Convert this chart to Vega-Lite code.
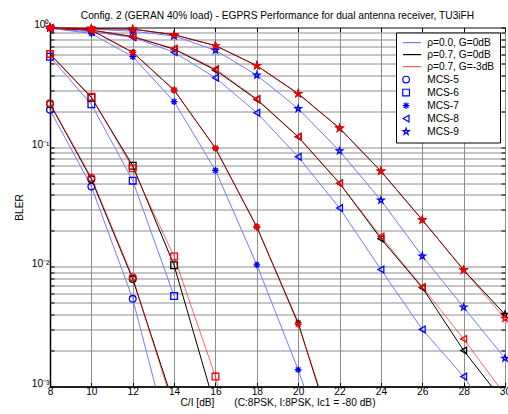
{
  "$schema": "https://vega.github.io/schema/vega-lite/v6.json",
  "width": 455,
  "height": 359,
  "autosize": {"type": "none"},
  "padding": {"left": 50, "top": 27.5, "right": 3, "bottom": 27.5},
  "background": "white",
  "config": {
    "font": "Liberation Sans",
    "view": {"stroke": "black", "strokeWidth": 1},
    "axis": {
      "domainColor": "black",
      "domainWidth": 1.5,
      "tickColor": "black",
      "tickSize": -4,
      "labelFontSize": 10.2,
      "labelColor": "black",
      "labelFont": "Liberation Sans",
      "titleFont": "Liberation Sans",
      "titleFontSize": 10.2,
      "titleFontWeight": "normal",
      "titleColor": "black",
      "gridColor": "#8c8c8c",
      "gridOpacity": 1,
      "gridWidth": 1
    },
    "legend": {
      "labelFont": "Liberation Sans",
      "labelFontSize": 10.2,
      "labelColor": "black"
    }
  },
  "title": {
    "text": "Config. 2 (GERAN 40% load) - EGPRS Performance for dual antenna receiver, TU3iFH",
    "fontSize": 10.2,
    "fontWeight": "normal",
    "font": "Liberation Sans",
    "color": "black",
    "offset": -2
  },
  "data": {
    "values": [
      {"s": "ρ=0.0, G=0dB", "m": "MCS-5", "x": 8, "y": 0.205},
      {"s": "ρ=0.0, G=0dB", "m": "MCS-5", "x": 10, "y": 0.047},
      {"s": "ρ=0.0, G=0dB", "m": "MCS-5", "x": 12, "y": 0.0054},
      {"s": "ρ=0.0, G=0dB", "m": "MCS-5", "x": 14, "y": 0.00025},
      {"s": "ρ=0.7, G=0dB", "m": "MCS-5", "x": 8, "y": 0.23},
      {"s": "ρ=0.7, G=0dB", "m": "MCS-5", "x": 10, "y": 0.054},
      {"s": "ρ=0.7, G=0dB", "m": "MCS-5", "x": 12, "y": 0.0079},
      {"s": "ρ=0.7, G=0dB", "m": "MCS-5", "x": 14, "y": 0.0007},
      {"s": "ρ=0.7, G=-3dB", "m": "MCS-5", "x": 8, "y": 0.233},
      {"s": "ρ=0.7, G=-3dB", "m": "MCS-5", "x": 10, "y": 0.0556},
      {"s": "ρ=0.7, G=-3dB", "m": "MCS-5", "x": 12, "y": 0.0082},
      {"s": "ρ=0.7, G=-3dB", "m": "MCS-5", "x": 14, "y": 0.00064},

      {"s": "ρ=0.0, G=0dB", "m": "MCS-6", "x": 8, "y": 0.57},
      {"s": "ρ=0.0, G=0dB", "m": "MCS-6", "x": 10, "y": 0.228},
      {"s": "ρ=0.0, G=0dB", "m": "MCS-6", "x": 12, "y": 0.0525},
      {"s": "ρ=0.0, G=0dB", "m": "MCS-6", "x": 14, "y": 0.0057},
      {"s": "ρ=0.7, G=0dB", "m": "MCS-6", "x": 8, "y": 0.6},
      {"s": "ρ=0.7, G=0dB", "m": "MCS-6", "x": 10, "y": 0.26},
      {"s": "ρ=0.7, G=0dB", "m": "MCS-6", "x": 12, "y": 0.07},
      {"s": "ρ=0.7, G=0dB", "m": "MCS-6", "x": 14, "y": 0.0103},
      {"s": "ρ=0.7, G=0dB", "m": "MCS-6", "x": 16, "y": 0.00066},
      {"s": "ρ=0.7, G=-3dB", "m": "MCS-6", "x": 8, "y": 0.6},
      {"s": "ρ=0.7, G=-3dB", "m": "MCS-6", "x": 10, "y": 0.264},
      {"s": "ρ=0.7, G=-3dB", "m": "MCS-6", "x": 12, "y": 0.0667},
      {"s": "ρ=0.7, G=-3dB", "m": "MCS-6", "x": 14, "y": 0.0122},
      {"s": "ρ=0.7, G=-3dB", "m": "MCS-6", "x": 16, "y": 0.00121},
      {"s": "ρ=0.7, G=-3dB", "m": "MCS-6", "x": 18, "y": 0.00004},

      {"s": "ρ=0.0, G=0dB", "m": "MCS-7", "x": 8, "y": 0.99},
      {"s": "ρ=0.0, G=0dB", "m": "MCS-7", "x": 10, "y": 0.89},
      {"s": "ρ=0.0, G=0dB", "m": "MCS-7", "x": 12, "y": 0.57},
      {"s": "ρ=0.0, G=0dB", "m": "MCS-7", "x": 14, "y": 0.24},
      {"s": "ρ=0.0, G=0dB", "m": "MCS-7", "x": 16, "y": 0.064},
      {"s": "ρ=0.0, G=0dB", "m": "MCS-7", "x": 18, "y": 0.0104},
      {"s": "ρ=0.0, G=0dB", "m": "MCS-7", "x": 20, "y": 0.00138},
      {"s": "ρ=0.0, G=0dB", "m": "MCS-7", "x": 22, "y": 0.00014},
      {"s": "ρ=0.7, G=0dB", "m": "MCS-7", "x": 8, "y": 0.99},
      {"s": "ρ=0.7, G=0dB", "m": "MCS-7", "x": 10, "y": 0.95},
      {"s": "ρ=0.7, G=0dB", "m": "MCS-7", "x": 12, "y": 0.62},
      {"s": "ρ=0.7, G=0dB", "m": "MCS-7", "x": 14, "y": 0.3},
      {"s": "ρ=0.7, G=0dB", "m": "MCS-7", "x": 16, "y": 0.098},
      {"s": "ρ=0.7, G=0dB", "m": "MCS-7", "x": 18, "y": 0.0215},
      {"s": "ρ=0.7, G=0dB", "m": "MCS-7", "x": 20, "y": 0.0034},
      {"s": "ρ=0.7, G=0dB", "m": "MCS-7", "x": 22, "y": 0.00027},
      {"s": "ρ=0.7, G=-3dB", "m": "MCS-7", "x": 8, "y": 0.99},
      {"s": "ρ=0.7, G=-3dB", "m": "MCS-7", "x": 10, "y": 0.95},
      {"s": "ρ=0.7, G=-3dB", "m": "MCS-7", "x": 12, "y": 0.62},
      {"s": "ρ=0.7, G=-3dB", "m": "MCS-7", "x": 14, "y": 0.3},
      {"s": "ρ=0.7, G=-3dB", "m": "MCS-7", "x": 16, "y": 0.098},
      {"s": "ρ=0.7, G=-3dB", "m": "MCS-7", "x": 18, "y": 0.0217},
      {"s": "ρ=0.7, G=-3dB", "m": "MCS-7", "x": 20, "y": 0.0033},
      {"s": "ρ=0.7, G=-3dB", "m": "MCS-7", "x": 22, "y": 0.0003},

      {"s": "ρ=0.0, G=0dB", "m": "MCS-8", "x": 8, "y": 0.98},
      {"s": "ρ=0.0, G=0dB", "m": "MCS-8", "x": 10, "y": 0.92},
      {"s": "ρ=0.0, G=0dB", "m": "MCS-8", "x": 12, "y": 0.83},
      {"s": "ρ=0.0, G=0dB", "m": "MCS-8", "x": 14, "y": 0.62},
      {"s": "ρ=0.0, G=0dB", "m": "MCS-8", "x": 16, "y": 0.38},
      {"s": "ρ=0.0, G=0dB", "m": "MCS-8", "x": 18, "y": 0.194},
      {"s": "ρ=0.0, G=0dB", "m": "MCS-8", "x": 20, "y": 0.083},
      {"s": "ρ=0.0, G=0dB", "m": "MCS-8", "x": 22, "y": 0.031},
      {"s": "ρ=0.0, G=0dB", "m": "MCS-8", "x": 24, "y": 0.0095},
      {"s": "ρ=0.0, G=0dB", "m": "MCS-8", "x": 26, "y": 0.003},
      {"s": "ρ=0.0, G=0dB", "m": "MCS-8", "x": 28, "y": 0.00121},
      {"s": "ρ=0.0, G=0dB", "m": "MCS-8", "x": 30, "y": 0.00039},
      {"s": "ρ=0.7, G=0dB", "m": "MCS-8", "x": 8, "y": 0.99},
      {"s": "ρ=0.7, G=0dB", "m": "MCS-8", "x": 10, "y": 0.95},
      {"s": "ρ=0.7, G=0dB", "m": "MCS-8", "x": 12, "y": 0.84},
      {"s": "ρ=0.7, G=0dB", "m": "MCS-8", "x": 14, "y": 0.66},
      {"s": "ρ=0.7, G=0dB", "m": "MCS-8", "x": 16, "y": 0.44},
      {"s": "ρ=0.7, G=0dB", "m": "MCS-8", "x": 18, "y": 0.25},
      {"s": "ρ=0.7, G=0dB", "m": "MCS-8", "x": 20, "y": 0.122},
      {"s": "ρ=0.7, G=0dB", "m": "MCS-8", "x": 22, "y": 0.05},
      {"s": "ρ=0.7, G=0dB", "m": "MCS-8", "x": 24, "y": 0.0172},
      {"s": "ρ=0.7, G=0dB", "m": "MCS-8", "x": 26, "y": 0.0067},
      {"s": "ρ=0.7, G=0dB", "m": "MCS-8", "x": 28, "y": 0.002},
      {"s": "ρ=0.7, G=0dB", "m": "MCS-8", "x": 30, "y": 0.00072},
      {"s": "ρ=0.7, G=-3dB", "m": "MCS-8", "x": 8, "y": 0.99},
      {"s": "ρ=0.7, G=-3dB", "m": "MCS-8", "x": 10, "y": 0.95},
      {"s": "ρ=0.7, G=-3dB", "m": "MCS-8", "x": 12, "y": 0.84},
      {"s": "ρ=0.7, G=-3dB", "m": "MCS-8", "x": 14, "y": 0.665},
      {"s": "ρ=0.7, G=-3dB", "m": "MCS-8", "x": 16, "y": 0.45},
      {"s": "ρ=0.7, G=-3dB", "m": "MCS-8", "x": 18, "y": 0.253},
      {"s": "ρ=0.7, G=-3dB", "m": "MCS-8", "x": 20, "y": 0.122},
      {"s": "ρ=0.7, G=-3dB", "m": "MCS-8", "x": 22, "y": 0.05},
      {"s": "ρ=0.7, G=-3dB", "m": "MCS-8", "x": 24, "y": 0.0179},
      {"s": "ρ=0.7, G=-3dB", "m": "MCS-8", "x": 26, "y": 0.0068},
      {"s": "ρ=0.7, G=-3dB", "m": "MCS-8", "x": 28, "y": 0.0025},
      {"s": "ρ=0.7, G=-3dB", "m": "MCS-8", "x": 30, "y": 0.00085},

      {"s": "ρ=0.0, G=0dB", "m": "MCS-9", "x": 8, "y": 0.99},
      {"s": "ρ=0.0, G=0dB", "m": "MCS-9", "x": 10, "y": 0.97},
      {"s": "ρ=0.0, G=0dB", "m": "MCS-9", "x": 12, "y": 0.93},
      {"s": "ρ=0.0, G=0dB", "m": "MCS-9", "x": 14, "y": 0.85},
      {"s": "ρ=0.0, G=0dB", "m": "MCS-9", "x": 16, "y": 0.645},
      {"s": "ρ=0.0, G=0dB", "m": "MCS-9", "x": 18, "y": 0.4},
      {"s": "ρ=0.0, G=0dB", "m": "MCS-9", "x": 20, "y": 0.21},
      {"s": "ρ=0.0, G=0dB", "m": "MCS-9", "x": 22, "y": 0.093},
      {"s": "ρ=0.0, G=0dB", "m": "MCS-9", "x": 24, "y": 0.036},
      {"s": "ρ=0.0, G=0dB", "m": "MCS-9", "x": 26, "y": 0.0123},
      {"s": "ρ=0.0, G=0dB", "m": "MCS-9", "x": 28, "y": 0.0046},
      {"s": "ρ=0.0, G=0dB", "m": "MCS-9", "x": 30, "y": 0.00172},
      {"s": "ρ=0.7, G=0dB", "m": "MCS-9", "x": 8, "y": 1.0},
      {"s": "ρ=0.7, G=0dB", "m": "MCS-9", "x": 10, "y": 0.98},
      {"s": "ρ=0.7, G=0dB", "m": "MCS-9", "x": 12, "y": 0.97},
      {"s": "ρ=0.7, G=0dB", "m": "MCS-9", "x": 14, "y": 0.87},
      {"s": "ρ=0.7, G=0dB", "m": "MCS-9", "x": 16, "y": 0.705},
      {"s": "ρ=0.7, G=0dB", "m": "MCS-9", "x": 18, "y": 0.48},
      {"s": "ρ=0.7, G=0dB", "m": "MCS-9", "x": 20, "y": 0.28},
      {"s": "ρ=0.7, G=0dB", "m": "MCS-9", "x": 22, "y": 0.144},
      {"s": "ρ=0.7, G=0dB", "m": "MCS-9", "x": 24, "y": 0.063},
      {"s": "ρ=0.7, G=0dB", "m": "MCS-9", "x": 26, "y": 0.0247},
      {"s": "ρ=0.7, G=0dB", "m": "MCS-9", "x": 28, "y": 0.0094},
      {"s": "ρ=0.7, G=0dB", "m": "MCS-9", "x": 30, "y": 0.004},
      {"s": "ρ=0.7, G=-3dB", "m": "MCS-9", "x": 8, "y": 1.0},
      {"s": "ρ=0.7, G=-3dB", "m": "MCS-9", "x": 10, "y": 0.98},
      {"s": "ρ=0.7, G=-3dB", "m": "MCS-9", "x": 12, "y": 0.97},
      {"s": "ρ=0.7, G=-3dB", "m": "MCS-9", "x": 14, "y": 0.87},
      {"s": "ρ=0.7, G=-3dB", "m": "MCS-9", "x": 16, "y": 0.705},
      {"s": "ρ=0.7, G=-3dB", "m": "MCS-9", "x": 18, "y": 0.48},
      {"s": "ρ=0.7, G=-3dB", "m": "MCS-9", "x": 20, "y": 0.28},
      {"s": "ρ=0.7, G=-3dB", "m": "MCS-9", "x": 22, "y": 0.144},
      {"s": "ρ=0.7, G=-3dB", "m": "MCS-9", "x": 24, "y": 0.063},
      {"s": "ρ=0.7, G=-3dB", "m": "MCS-9", "x": 26, "y": 0.0247},
      {"s": "ρ=0.7, G=-3dB", "m": "MCS-9", "x": 28, "y": 0.0094},
      {"s": "ρ=0.7, G=-3dB", "m": "MCS-9", "x": 30, "y": 0.0037}
    ]
  },
  "layer": [
    {
      "transform": [{"filter": {"field": "s", "equal": "ρ=0.0, G=0dB"}}],
      "mark": {"type": "line", "clip": true, "strokeWidth": 1},
      "encoding": {
        "x": {
          "field": "x", "type": "quantitative",
          "scale": {"domain": [8, 30], "nice": false, "zero": false},
          "axis": {
            "orient": "bottom",
            "values": [8, 10, 12, 14, 16, 18, 20, 22, 24, 26, 28, 30],
            "format": "d",
            "grid": true,
            "labelPadding": 4,
            "labelFlush": false,
            "title": "C/I [dB]\u00a0\u00a0\u00a0\u00a0\u00a0\u00a0\u00a0(C:8PSK, I:8PSK, Ic1 = -80 dB)",
            "titlePadding": 1
          }
        },
        "y": {
          "field": "y", "type": "quantitative",
          "scale": {"type": "log", "domain": [0.001, 1], "nice": false},
          "axis": {
            "orient": "left",
            "values": [0.001, 0.002, 0.003, 0.004, 0.005, 0.006, 0.007, 0.008, 0.009, 0.01, 0.02, 0.03, 0.04, 0.05, 0.06, 0.07, 0.08, 0.09, 0.1, 0.2, 0.3, 0.4, 0.5, 0.6, 0.7, 0.8, 0.9, 1],
            "labelExpr": "datum.value == 1 ? '10⁰' : datum.value == 0.1 ? '10⁻¹' : datum.value == 0.01 ? '10⁻²' : datum.value == 0.001 ? '10⁻³' : ''",
            "labelOverlap": false,
            "labelFlush": false,
            "labelPadding": 5,
            "labelOffset": -3,
            "grid": true,
            "title": "BLER",
            "titlePadding": 7
          }
        },
        "color": {
          "field": "s", "type": "nominal",
          "scale": {
            "domain": ["ρ=0.0, G=0dB", "ρ=0.7, G=0dB", "ρ=0.7, G=-3dB"],
            "range": ["#7878ff", "#000000", "rgba(255,0,0,0.6)"]
          },
          "legend": null
        },
        "detail": {"field": "m"},
        "order": {"field": "x"}
      }
    },
    {
      "transform": [
        {"filter": {"field": "s", "equal": "ρ=0.0, G=0dB"}},
        {"filter": "datum.y >= 0.001"}
      ],
      "mark": {"type": "point", "filled": false, "size": 45, "strokeWidth": 1.3, "opacity": 1},
      "encoding": {
        "x": {"field": "x", "type": "quantitative", "axis": null},
        "y": {"field": "y", "type": "quantitative", "axis": null},
        "shape": {
          "field": "m", "type": "nominal",
          "scale": {
            "domain": ["ρ=0.0, G=0dB", "ρ=0.7, G=0dB", "ρ=0.7, G=-3dB", "MCS-5", "MCS-6", "MCS-7", "MCS-8", "MCS-9"],
            "range": ["M-0.9,0L4.5,0", "M-0.9,0L4.5,0", "M-0.9,0L4.5,0", "circle", "square", "M-1,0L1,0M0,-1L0,1M-0.7,-0.7L0.7,0.7M-0.7,0.7L0.7,-0.7", "triangle-left", "M0,-1L0.225,-0.309L0.951,-0.309L0.363,0.118L0.588,0.809L0,0.382L-0.588,0.809L-0.363,0.118L-0.951,-0.309L-0.225,-0.309Z"]
          },
          "legend": {
            "title": null,
            "orient": "top-right",
            "offset": 5,
            "padding": 5,
            "strokeColor": "black",
            "fillColor": "white",
            "labelOffset": 16,
            "rowPadding": 1,
            "symbolSize": 45,
            "symbolOpacity": 1,
            "symbolStrokeWidth": 1.2
          }
        },
        "stroke": {
          "field": "m", "type": "nominal",
          "scale": {
            "domain": ["ρ=0.0, G=0dB", "ρ=0.7, G=0dB", "ρ=0.7, G=-3dB", "MCS-5", "MCS-6", "MCS-7", "MCS-8", "MCS-9"],
            "range": ["#7878ff", "#000000", "#ff5a5a", "#0000ff", "#0000ff", "#0000ff", "#0000ff", "#0000ff"]
          },
          "legend": {
            "title": null,
            "orient": "top-right",
            "offset": 5,
            "padding": 5,
            "strokeColor": "black",
            "fillColor": "white",
            "labelOffset": 16,
            "rowPadding": 1,
            "symbolSize": 45,
            "symbolOpacity": 1,
            "symbolStrokeWidth": 1.2
          }
        }
      }
    },
    {
      "transform": [{"filter": {"field": "s", "equal": "ρ=0.7, G=0dB"}}],
      "mark": {"type": "line", "clip": true, "strokeWidth": 1},
      "encoding": {
        "x": {
          "field": "x", "type": "quantitative",
          "axis": {"orient": "top", "values": [8, 10, 12, 14, 16, 18, 20, 22, 24, 26, 28, 30], "labels": false, "grid": false, "domain": false, "title": null}
        },
        "y": {
          "field": "y", "type": "quantitative",
          "axis": {
            "orient": "right",
            "values": [0.001, 0.002, 0.003, 0.004, 0.005, 0.006, 0.007, 0.008, 0.009, 0.01, 0.02, 0.03, 0.04, 0.05, 0.06, 0.07, 0.08, 0.09, 0.1, 0.2, 0.3, 0.4, 0.5, 0.6, 0.7, 0.8, 0.9, 1],
            "labels": false, "grid": false, "domain": false, "title": null
          }
        },
        "color": {"field": "s", "type": "nominal", "legend": null},
        "detail": {"field": "m"},
        "order": {"field": "x"}
      }
    },
    {
      "transform": [
        {"filter": {"field": "s", "equal": "ρ=0.7, G=0dB"}},
        {"filter": "datum.y >= 0.001"}
      ],
      "mark": {"type": "point", "filled": false, "size": 45, "strokeWidth": 1.3, "opacity": 1, "stroke": "#000000"},
      "encoding": {
        "x": {"field": "x", "type": "quantitative", "axis": null},
        "y": {"field": "y", "type": "quantitative", "axis": null},
        "shape": {
          "field": "m", "type": "nominal",
          "scale": {
            "domain": ["ρ=0.0, G=0dB", "ρ=0.7, G=0dB", "ρ=0.7, G=-3dB", "MCS-5", "MCS-6", "MCS-7", "MCS-8", "MCS-9"],
            "range": ["M-0.9,0L4.5,0", "M-0.9,0L4.5,0", "M-0.9,0L4.5,0", "circle", "square", "M-1,0L1,0M0,-1L0,1M-0.7,-0.7L0.7,0.7M-0.7,0.7L0.7,-0.7", "triangle-left", "M0,-1L0.225,-0.309L0.951,-0.309L0.363,0.118L0.588,0.809L0,0.382L-0.588,0.809L-0.363,0.118L-0.951,-0.309L-0.225,-0.309Z"]
          }
        }
      }
    },
    {
      "transform": [{"filter": {"field": "s", "equal": "ρ=0.7, G=-3dB"}}],
      "mark": {"type": "line", "clip": true, "strokeWidth": 1},
      "encoding": {
        "x": {"field": "x", "type": "quantitative", "axis": null},
        "y": {"field": "y", "type": "quantitative", "axis": null},
        "color": {"field": "s", "type": "nominal", "legend": null},
        "detail": {"field": "m"},
        "order": {"field": "x"}
      }
    },
    {
      "transform": [
        {"filter": {"field": "s", "equal": "ρ=0.7, G=-3dB"}},
        {"filter": "datum.y >= 0.001"}
      ],
      "mark": {"type": "point", "filled": false, "size": 45, "strokeWidth": 1.3, "opacity": 1, "stroke": "#ff0000"},
      "encoding": {
        "x": {"field": "x", "type": "quantitative", "axis": null},
        "y": {"field": "y", "type": "quantitative", "axis": null},
        "shape": {
          "field": "m", "type": "nominal",
          "scale": {
            "domain": ["ρ=0.0, G=0dB", "ρ=0.7, G=0dB", "ρ=0.7, G=-3dB", "MCS-5", "MCS-6", "MCS-7", "MCS-8", "MCS-9"],
            "range": ["M-0.9,0L4.5,0", "M-0.9,0L4.5,0", "M-0.9,0L4.5,0", "circle", "square", "M-1,0L1,0M0,-1L0,1M-0.7,-0.7L0.7,0.7M-0.7,0.7L0.7,-0.7", "triangle-left", "M0,-1L0.225,-0.309L0.951,-0.309L0.363,0.118L0.588,0.809L0,0.382L-0.588,0.809L-0.363,0.118L-0.951,-0.309L-0.225,-0.309Z"]
          }
        }
      }
    }
  ],
  "resolve": {"axis": {"x": "independent", "y": "independent"}}
}
